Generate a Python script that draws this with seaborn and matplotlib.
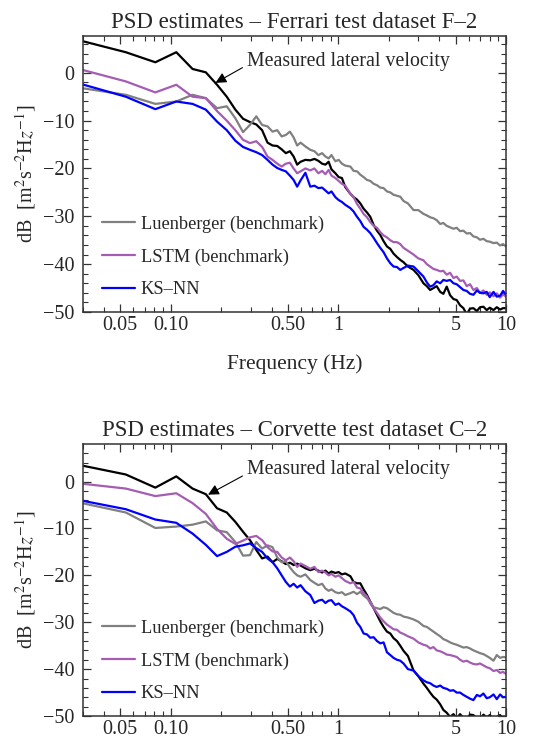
import numpy as np
import pandas as pd
import matplotlib
matplotlib.use("Agg")
import matplotlib.pyplot as plt
import seaborn as sns

# frequency grid (Hz), shared by every curve
FREQ = [0.027, 0.054, 0.081, 0.108, 0.135, 0.162, 0.189, 0.216, 0.243, 0.270,
        0.297, 0.324, 0.351, 0.378, 0.405, 0.432, 0.459, 0.486, 0.514, 0.541,
        0.568, 0.595, 0.636, 0.68, 0.72, 0.76, 0.80, 0.837, 0.875, 0.91,
        0.96, 1.004, 1.05, 1.10, 1.18, 1.233, 1.292, 1.352, 1.414, 1.482,
        1.55, 1.623, 1.699, 1.778, 1.861, 1.949, 2.04, 2.134, 2.235, 2.339,
        2.448, 2.6, 2.808, 3.0, 3.218, 3.37, 3.526, 3.69, 3.86, 4.05,
        4.23, 4.43, 4.64, 4.86, 5.08, 5.32, 5.57, 5.83, 6.1, 6.39,
        6.7, 7.0, 7.33, 7.67, 8.0, 8.42, 8.81, 9.22, 9.6, 10.0]

# Ferrari F-2 (dB)
f_measured = [7.0, 4.3, 2.2, 4.3, 0.8, 0.1, -2.5, -5.0, -7.7, -9.6,
              -10.3, -10.8, -12.0, -14.6, -15.2, -15.3, -16.0, -16.8, -16.4, -17.5,
              -19.2, -18.6, -18.2, -18.3, -18.0, -18.4, -19.0, -19.2, -18.6, -20.2,
              -21.0, -21.8, -22.0, -23.9, -25.3, -26.0, -26.5, -27.3, -28.4, -29.2,
              -30.1, -31.8, -33.0, -33.9, -35.2, -36.3, -36.8, -37.8, -38.5, -39.1,
              -39.6, -40.5, -41.2, -42.3, -44.0, -44.6, -45.4, -45.0, -44.6, -45.8,
              -46.2, -44.7, -46.5, -47.3, -47.5, -48.6, -49.2, -50.5, -49.3, -49.2,
              -49.8, -49.0, -48.9, -49.6, -49.1, -49.6, -49.0, -49.5, -49.2, -49.2]
f_luenberger = [-3.0, -4.6, -6.5, -6.0, -4.6, -5.3, -7.4, -7.0, -9.5, -12.4,
                -10.9, -9.1, -10.9, -11.2, -12.3, -12.0, -13.3, -13.0, -12.3, -13.5,
                -15.2, -14.6, -15.4, -16.1, -16.4, -17.2, -16.8, -17.5, -17.9, -17.2,
                -18.5, -18.2, -19.0, -19.4, -19.6, -20.5, -20.6, -21.3, -21.8, -22.4,
                -22.6, -23.2, -23.5, -24.0, -24.1, -24.8, -25.0, -25.5, -25.7, -25.9,
                -26.8, -27.3, -28.7, -28.7, -29.5, -29.8, -30.2, -30.4, -30.8, -31.6,
                -31.4, -32.0, -32.3, -32.6, -32.4, -33.1, -33.0, -33.6, -33.5, -34.2,
                -34.4, -34.9, -34.7, -35.2, -35.3, -35.6, -35.5, -36.1, -35.8, -36.3]
f_lstm = [1.0, -1.8, -4.1, -2.5, -5.0, -5.3, -8.0, -10.0, -12.0, -14.0,
          -14.7, -14.3, -15.5, -17.5, -18.2, -19.0, -19.6, -19.0, -18.8, -20.0,
          -21.0, -20.6, -20.0, -20.4, -20.0, -21.0, -20.5, -21.2, -20.3, -21.5,
          -22.0, -22.6, -23.2, -23.6, -25.3, -26.0, -27.4, -28.4, -29.5, -30.2,
          -31.2, -32.0, -32.4, -33.3, -34.0, -34.4, -35.0, -35.4, -35.4, -35.8,
          -36.6, -37.2, -38.0, -38.8, -39.2, -40.0, -40.5, -41.0, -41.2, -41.5,
          -41.4, -42.2, -41.8, -42.9, -42.6, -43.5, -43.4, -44.6, -44.2, -45.4,
          -45.0, -46.0, -45.5, -46.4, -45.9, -46.7, -46.1, -47.0, -46.3, -46.8]
f_ksnn = [-2.0, -5.0, -7.6, -6.0, -6.5, -7.7, -10.2, -12.0, -14.2, -15.5,
          -16.1, -16.6, -17.2, -18.2, -19.2, -19.9, -20.3, -20.6, -21.5, -22.4,
          -23.8, -22.5, -20.9, -23.8, -23.6, -24.1, -24.0, -24.6, -25.2, -24.8,
          -26.0, -26.6, -27.0, -27.6, -28.3, -29.0, -30.1, -31.0, -32.2, -32.8,
          -33.5, -34.5, -35.6, -36.6, -37.5, -38.8, -39.8, -40.5, -40.6, -41.2,
          -40.8, -40.3, -40.5, -41.5, -42.6, -43.8, -44.7, -44.4, -43.6, -44.0,
          -43.3, -43.5, -43.3, -44.0, -44.2, -44.8, -45.4, -45.6, -46.2, -46.4,
          -45.5, -46.0, -46.1, -45.8, -46.9, -45.8, -46.8, -46.6, -45.6, -46.4]

# Corvette C-2 (dB)
c_measured = [3.7, 1.5, -1.3, 1.1, -1.5, -2.7, -5.7, -6.6, -8.6, -10.7,
              -12.5, -14.6, -16.4, -16.0, -17.2, -16.5, -17.0, -17.6, -17.3, -17.8,
              -17.5, -17.9, -18.5, -18.9, -18.6, -19.0, -19.4, -19.0, -19.6, -19.2,
              -19.5, -19.3, -19.8, -19.6, -20.2, -21.4, -21.7, -21.7, -23.0, -24.2,
              -25.6, -27.0, -28.4, -29.8, -31.0, -32.0, -32.4, -33.4, -34.0, -35.0,
              -36.1, -37.2, -40.3, -41.5, -43.1, -44.0, -45.0, -45.9, -46.5, -47.5,
              -48.7, -49.3, -50.2, -49.6, -50.5, -49.6, -50.4, -50.6, -49.7, -49.8,
              -50.6, -50.8, -49.7, -50.3, -49.8, -50.6, -50.2, -49.8, -50.5, -50.4]
c_luenberger = [-4.3, -6.6, -9.9, -9.6, -9.2, -8.5, -10.4, -10.8, -12.9, -15.8,
                -15.7, -12.9, -14.3, -13.6, -14.0, -16.2, -17.2, -17.0, -18.3, -19.3,
                -20.0, -20.3, -19.8, -21.0, -21.6, -22.1, -21.8, -22.8, -23.3, -23.0,
                -23.6, -23.8, -23.6, -24.2, -23.8, -23.5, -24.0, -23.5, -24.3, -24.9,
                -25.6, -26.8, -27.0, -27.2, -26.8, -27.0, -27.5, -28.0, -28.3, -28.4,
                -28.8, -29.0, -29.4, -29.9, -30.8, -31.0, -31.5, -32.0, -32.5, -33.0,
                -33.6, -33.9, -34.3, -34.6, -34.8, -35.1, -35.4, -35.3, -35.6, -36.0,
                -36.3, -36.6, -36.8, -37.2, -37.6, -38.2, -37.0, -37.6, -37.4, -37.5]
c_lstm = [-0.3, -1.5, -3.1, -2.5, -4.6, -6.9, -10.1, -12.2, -13.3, -12.6,
          -11.9, -11.6, -12.5, -14.0, -14.9, -15.0, -16.2, -16.8, -16.2, -17.0,
          -18.2, -17.5, -18.0, -18.6, -18.2, -19.3, -19.0, -19.4, -20.0, -19.7,
          -20.3, -20.0, -20.6, -21.2, -21.7, -21.4, -22.6, -22.8, -23.8, -24.5,
          -26.0, -27.0, -28.0, -29.0, -29.8, -30.5, -31.0, -31.5, -31.6, -32.2,
          -32.5, -33.0, -33.5, -34.3, -34.8, -35.0, -35.6, -35.3, -36.0, -36.2,
          -36.5, -36.9, -37.0, -37.2, -37.4, -38.0, -38.4, -38.2, -38.6, -38.9,
          -39.0, -38.8, -39.2, -39.6, -39.8, -40.4, -40.2, -40.8, -40.6, -41.0]
c_ksnn = [-3.8, -5.9, -8.1, -8.8, -11.1, -13.5, -15.9, -15.0, -13.9, -13.6,
          -13.2, -14.2, -15.0, -16.4, -17.2, -18.5, -20.0, -21.4, -22.4, -21.8,
          -22.6, -22.1, -23.4, -24.2, -25.9, -25.4, -25.2, -25.9, -25.4, -25.3,
          -26.3, -26.0, -26.6, -27.0, -27.7, -28.5, -30.1, -31.0, -32.4, -32.6,
          -33.3, -33.2, -34.0, -34.5, -34.3, -36.4, -37.0, -37.6, -38.0, -38.2,
          -38.8, -40.0, -40.3, -41.5, -42.4, -42.8, -43.0, -43.5, -43.8, -43.5,
          -44.0, -44.2, -44.6, -44.5, -45.0, -45.0, -45.5, -45.9, -46.3, -46.6,
          -45.5, -45.8, -45.2, -46.2, -46.0, -45.4, -46.4, -45.4, -46.0, -45.9]

SERIES = ["Luenberger (benchmark)", "LSTM (benchmark)", "KS\u2013NN"]
COLORS = ["#808080", "#A45DB3", "#0000FF"]
TITLES = ["PSD estimates \u2013 Ferrari test dataset F\u20132",
          "PSD estimates \u2013 Corvette test dataset C\u20132"]
XTICKS = [0.05, 0.1, 0.5, 1, 5, 10]
XTICK_LABELS = ["0.05", "0.10", "0.50", "1", "5", "10"]
XMINOR = [0.03, 0.04, 0.06, 0.07, 0.08, 0.09, 0.2, 0.3, 0.4, 0.6, 0.7, 0.8,
          0.9, 2, 3, 4, 6, 7, 8, 9]

sns.set_style("ticks")
plt.rcParams["font.family"] = ["Liberation Serif", "DejaVu Serif"]
plt.rcParams["mathtext.fontset"] = "stix"
plt.rcParams["xtick.direction"] = "in"
plt.rcParams["ytick.direction"] = "in"


def long_df(measured, luen, lstm, ksnn):
    frames = []
    for name, vals in zip(["Measured"] + SERIES, [measured, luen, lstm, ksnn]):
        frames.append(pd.DataFrame({"freq": FREQ, "dB": vals, "series": name}))
    return pd.concat(frames, ignore_index=True)


fig = plt.figure(figsize=(5.52, 7.43), dpi=100)
ax_top = fig.add_axes([0.1504, 0.5801, 0.7663, 0.3715])
ax_bot = fig.add_axes([0.1504, 0.0363, 0.7663, 0.3661])

panels = [
    (ax_top, long_df(f_measured, f_luenberger, f_lstm, f_ksnn), 7.7, (0.185, -2.1)),
    (ax_bot, long_df(c_measured, c_luenberger, c_lstm, c_ksnn), 8.0, (0.167, -2.8)),
]

for i, (ax, df, ytop, tip) in enumerate(panels):
    sns.lineplot(data=df[df.series == "Measured"], x="freq", y="dB", color="black",
                 lw=1.6, ax=ax, legend=False, sort=False)
    sns.lineplot(data=df[df.series != "Measured"], x="freq", y="dB", hue="series",
                 hue_order=SERIES, palette=COLORS, lw=1.6, ax=ax, sort=False)
    ax.set_xscale("log")
    ax.set_xlim(0.03, 10)
    ax.set_ylim(-50, ytop)
    ax.set_xticks(XTICKS)
    ax.set_xticklabels(XTICK_LABELS)
    ax.set_xticks(XMINOR, minor=True)
    ax.set_xticklabels([], minor=True)
    ax.set_yticks([0, -10, -20, -30, -40, -50])
    ax.set_yticks(np.arange(-50, ytop, 2), minor=True)
    ax.tick_params(which="both", top=True, right=True, labelsize=14.5, width=0.9,
                   color="#333333")
    ax.tick_params(axis="y", pad=6)
    ax.tick_params(axis="x", pad=3)
    ax.tick_params(which="major", length=6)
    ax.tick_params(which="minor", length=3.5, width=0.8)
    for s in ax.spines.values():
        s.set_linewidth(1.1)
        s.set_color("#333333")

    ax.set_title(TITLES[i], fontsize=16.5, pad=6)
    ax.set_ylabel(r"dB  [m$^2$s$^{-2}$H$z^{-1}$]", fontsize=14.5, labelpad=4)
    ax.set_xlabel("Frequency (Hz)" if i == 0 else "", fontsize=15.5, labelpad=14)

    ax.annotate("Measured lateral velocity", xy=tip, xytext=(0.285, 2.4 if i == 0 else 2.5),
                ha="left", va="center", fontsize=14.3,
                arrowprops=dict(arrowstyle="-|>", color="black", lw=0.8,
                                mutation_scale=16, shrinkA=1, shrinkB=0,
                                relpos=(0.0, 0.3)))

    handles, labels = ax.get_legend_handles_labels()
    ax.legend(handles, labels, loc="lower left", bbox_to_anchor=(0.045, 0.05),
              frameon=False, fontsize=13.2, handlelength=1.8, handletextpad=0.3,
              labelspacing=0.85, borderpad=0, borderaxespad=0)

fig.savefig("out.png", dpi=100)
